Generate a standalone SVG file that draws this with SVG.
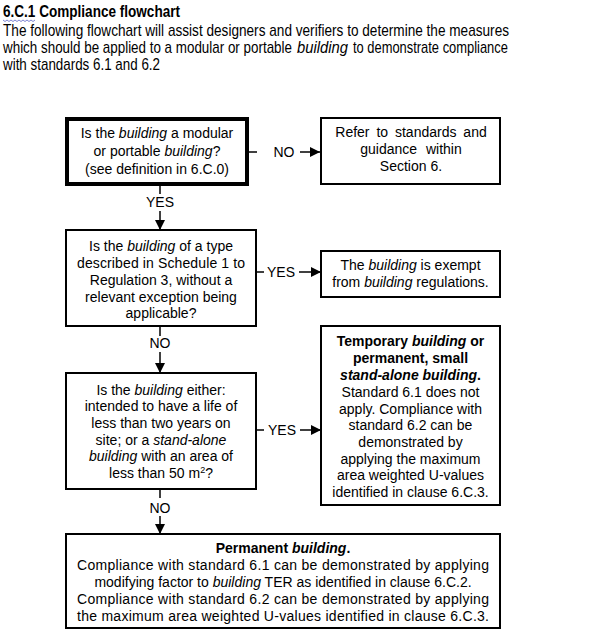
<svg xmlns="http://www.w3.org/2000/svg" width="610" height="641" viewBox="0 0 610 641">
<style>
text{font-family:"Liberation Sans",Arial,sans-serif;fill:#000}
.hd{font-size:16px}
.t{font-size:14px;text-anchor:middle}
.b{font-weight:bold}
.i{font-style:italic}
.box{fill:#fff;stroke:#000;stroke-width:2}
.thick{fill:#fff;stroke:#000;stroke-width:4}
.ln{stroke:#000;stroke-width:1.5;fill:none}
.arr{stroke:#000;stroke-width:1.5;fill:none;marker-end:url(#ah)}
</style>
<defs>
<marker id="ah" viewBox="0 0 10 10" refX="10" refY="5" markerUnits="userSpaceOnUse" markerWidth="11" markerHeight="10" orient="auto">
<path d="M0,0 L10,5 L0,10 z" fill="#000"/>
</marker>
</defs>
<rect width="610" height="641" fill="#fff"/>
<g id="heading">
<g transform="scale(0.84 1)">
<text class="hd b" x="3.6" y="17" textLength="210.7" lengthAdjust="spacingAndGlyphs">6.C.1 Compliance flowchart</text>
<text class="hd" x="3.6" y="36" textLength="602.4" lengthAdjust="spacingAndGlyphs">The following flowchart will assist designers and verifiers to determine the measures</text>
<text class="hd" x="3.6" y="53" textLength="344" lengthAdjust="spacingAndGlyphs">which should be applied to a modular or portable</text>
<text class="hd i" x="353.6" y="53" textLength="60.7" lengthAdjust="spacingAndGlyphs">building</text>
<text class="hd" x="420.2" y="53" textLength="184.5" lengthAdjust="spacingAndGlyphs">to demonstrate compliance</text>
<text class="hd" x="3.6" y="70" textLength="186.9" lengthAdjust="spacingAndGlyphs">with standards 6.1 and 6.2</text>
</g>
<path d="M3,20 l2,1.5 l2,-1.5 l2,1.5 l2,-1.5 l2,1.5 l2,-1.5 l2,1.5 l2,-1.5 l2,1.5 l2,-1.5 l2,1.5 l2,-1.5 l2,1.5 l2,-1.5 l2,1.5 l2,-1.5" stroke="#5a63c8" stroke-width="0.8" fill="none"/>
</g>
<g id="connectors">
<line class="ln" x1="248" y1="152" x2="257" y2="152"/>
<text class="t" x="284" y="157">NO</text>
<line class="arr" x1="300" y1="152" x2="320" y2="152"/>
<line class="ln" x1="160" y1="186" x2="160" y2="194"/>
<text class="t" x="160" y="207">YES</text>
<line class="arr" x1="160" y1="211" x2="160" y2="230"/>
<line class="ln" x1="257" y1="272" x2="264" y2="272"/>
<text class="t" x="281" y="277">YES</text>
<line class="arr" x1="299" y1="272" x2="321" y2="272"/>
<line class="ln" x1="160" y1="327" x2="160" y2="336"/>
<text class="t" x="160" y="348">NO</text>
<line class="arr" x1="160" y1="352" x2="160" y2="373"/>
<line class="ln" x1="257" y1="430" x2="264" y2="430"/>
<text class="t" x="282" y="435">YES</text>
<line class="arr" x1="300" y1="430" x2="321" y2="430"/>
<line class="ln" x1="160" y1="490" x2="160" y2="498"/>
<text class="t" x="160" y="513">NO</text>
<line class="arr" x1="160" y1="516" x2="160" y2="534"/>
</g>
<g id="q1">
<rect class="thick" x="67" y="119" width="180" height="65"/>
<text class="t" x="157" y="138">Is the <tspan class="i">building</tspan> a modular</text>
<text class="t" x="157" y="156">or portable <tspan class="i">building</tspan>?</text>
<text class="t" x="157" y="174">(see definition in 6.C.0)</text>
</g>
<g id="refer">
<rect class="box" x="321" y="118" width="179" height="66"/>
<text class="t" x="411" y="137" word-spacing="3">Refer to standards  and</text>
<text class="t" x="411" y="154" word-spacing="5">guidance within</text>
<text class="t" x="411" y="171">Section 6.</text>
</g>
<g id="q2">
<rect class="box" x="66" y="230" width="190" height="96"/>
<text class="t" x="161" y="251">Is the <tspan class="i">building</tspan> of a type</text>
<text class="t" x="161" y="268" textLength="168">described in Schedule 1 to</text>
<text class="t" x="161" y="285">Regulation 3, without a</text>
<text class="t" x="161" y="302">relevant exception being</text>
<text class="t" x="161" y="318">applicable?</text>
</g>
<g id="exempt">
<rect class="box" x="321" y="251" width="179" height="46"/>
<text class="t" x="410.5" y="270">The <tspan class="i">building</tspan> is exempt</text>
<text class="t" x="410.5" y="287">from <tspan class="i">building</tspan> regulations.</text>
</g>
<g id="q3">
<rect class="box" x="66" y="373" width="190" height="116"/>
<text class="t" x="161" y="395">Is the <tspan class="i">building</tspan> either:</text>
<text class="t" x="161" y="411">intended to have a life of</text>
<text class="t" x="161" y="428">less than two years on</text>
<text class="t" x="161" y="445">site; or a <tspan class="i">stand-alone</tspan></text>
<text class="t" x="161" y="461"><tspan class="i">building</tspan> with an area of</text>
<text class="t" x="161" y="478">less than 50 m<tspan font-size="9" dy="-5">2</tspan><tspan dy="5">?</tspan></text>
</g>
<g id="temporary">
<rect class="box" x="321" y="326" width="179" height="179"/>
<text class="t b" x="410.5" y="346">Temporary <tspan class="i">building</tspan> or</text>
<text class="t b" x="410.5" y="363">permanent, small</text>
<text class="t b" x="410.5" y="380"><tspan class="i">stand-alone building</tspan>.</text>
<text class="t" x="410.5" y="397">Standard 6.1 does not</text>
<text class="t" x="410.5" y="414">apply. Compliance with</text>
<text class="t" x="410.5" y="430">standard 6.2 can be</text>
<text class="t" x="410.5" y="447">demonstrated by</text>
<text class="t" x="410.5" y="464">applying the maximum</text>
<text class="t" x="410.5" y="480">area weighted U-values</text>
<text class="t" x="410.5" y="497">identified in clause 6.C.3.</text>
</g>
<g id="permanent">
<rect class="box" x="66" y="534" width="434" height="94"/>
<text class="t b" x="283" y="553">Permanent <tspan class="i">building</tspan>.</text>
<text class="t" x="283" y="570" textLength="412">Compliance with standard 6.1 can be demonstrated by applying</text>
<text class="t" x="283" y="587">modifying factor to <tspan class="i">building</tspan> TER as identified in clause 6.C.2.</text>
<text class="t" x="283" y="604" textLength="412">Compliance with standard 6.2 can be demonstrated by applying</text>
<text class="t" x="283" y="621" textLength="412">the maximum area weighted U-values identified in clause 6.C.3.</text>
</g>
</svg>
